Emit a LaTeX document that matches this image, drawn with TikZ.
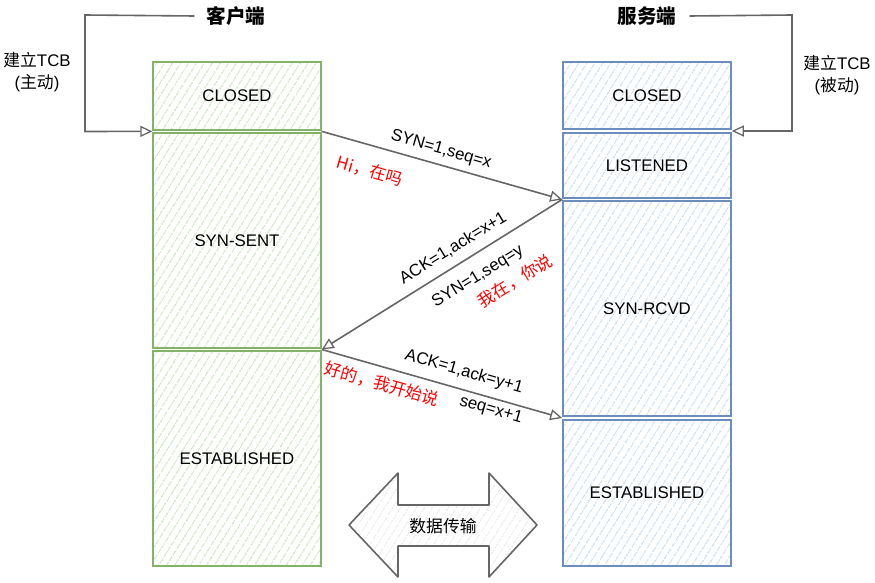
\documentclass[tikz,border=0pt]{standalone}
\usepackage{fontspec}
\setmainfont{Liberation Sans}
\newfontfamily\cjk{Noto Sans CJK SC}
\usetikzlibrary{arrows.meta,patterns.meta,calc}
\definecolor{gstroke}{HTML}{82B366}
\definecolor{ghatch}{HTML}{CDE4C4}
\definecolor{bstroke}{HTML}{6C8EBF}
\definecolor{bhatch}{HTML}{CADCF4}
\definecolor{lgray}{HTML}{666666}
\definecolor{hgray}{HTML}{E8E8E8}
\newcommand\dfs{\fontsize{16.8}{20}\selectfont}
\newcommand\tfs{\fontsize{19.6}{22}\selectfont}
\begin{document}
\begin{tikzpicture}[x=1pt,y=-1pt,
  boxbase/.style={line width=1.6pt, minimum width=168pt, inner sep=0pt, font=\dfs},
  gbox/.style={boxbase, draw=gstroke, pattern={Lines[angle=58,distance=6.5pt,line width=1pt]}, pattern color=ghatch},
  bbox/.style={boxbase, draw=bstroke, pattern={Lines[angle=58,distance=6.5pt,line width=1pt]}, pattern color=bhatch},
  conn/.style={draw=lgray, line width=1.6pt, -{Triangle[open,length=12pt,width=11pt,line width=1.3pt]}},
  lab/.style={font=\dfs, inner sep=0pt},
  redlab/.style={font=\dfs\cjk, text=red, inner sep=0pt},
  title/.style={font=\tfs\cjk\bfseries, inner sep=0pt}
]
\useasboundingbox (0,0) rectangle (875,583);

% titles
\node[title] (ctitle) at (236,16) {客户端};
\node[title] (stitle) at (647,16) {服务端};

% client boxes
\node[gbox, minimum height=68pt] (cclosed) at (237,96) {CLOSED};
\node[gbox, minimum height=215pt] (csent) at (237,240.5) {SYN-SENT};
\node[gbox, minimum height=215pt] (cest) at (237,458.5) {ESTABLISHED};

% server boxes
\node[bbox, minimum height=67pt] (sclosed) at (647,95.5) {CLOSED};
\node[bbox, minimum height=65pt] (slist) at (647,165.5) {LISTENED};
\node[bbox, minimum height=215pt] (srcvd) at (647,308.5) {SYN-RCVD};
\node[bbox, minimum height=146pt] (sest) at (647,493) {ESTABLISHED};

% junctions
\coordinate (cj0) at ($(cclosed.south west)!0.5!(csent.north west)$);
\coordinate (cj1) at ($(cclosed.south east)!0.5!(csent.north east)$);
\coordinate (cj2) at ($(csent.south east)!0.5!(cest.north east)$);
\coordinate (sj0) at ($(sclosed.south east)!0.5!(slist.north east)$);
\coordinate (sj1) at ($(slist.south west)!0.5!(srcvd.north west)$);
\coordinate (sj2) at ($(srcvd.south west)!0.5!(sest.north west)$);

% TCB bracket arrows
\coordinate (lc1) at (85,15);
\coordinate (lc2) at (85,131.5);
\draw[conn] ([xshift=-12pt]ctitle.west) -- (lc1) -- (lc2) -- (cj0);
\coordinate (rc1) at (792,15);
\coordinate (rc2) at (792,131);
\draw[conn] ([xshift=13pt]stitle.east) -- (rc1) -- (rc2) -- (sj0);

\node[lab, align=center] (ltcb) at (37,72) {{\cjk 建立}TCB\\[2pt]({\cjk 主动})};
\node[lab, align=center] (rtcb) at (837,75) {{\cjk 建立}TCB\\[2pt]({\cjk 被动})};

% handshake arrows
\draw[conn] (cj1) -- (sj1);
\draw[conn] (sj1) -- (cj2);
\draw[conn] (cj2) -- (sj2);

% labels
\node[lab, rotate=-16] (l1) at (441,150) {SYN=1,seq=x};
\node[redlab, rotate=-16] (r1) at (370,171) {Hi，在吗};
\node[lab, rotate=31.5] (l2) at (453,248) {ACK=1,ack=x+1};
\node[lab, rotate=31.5] (l3) at (478,277) {SYN=1,seq=y};
\node[redlab, rotate=31.5] (r2) at (515,281) {我在，你说};
\node[lab, rotate=-16] (l4) at (464,372) {ACK=1,ack=y+1};
\node[lab, rotate=-16] (l5) at (491,410) {seq=x+1};
\node[redlab, rotate=-16] (r3) at (382,384) {好的，我开始说};

% data transfer double arrow
\draw[draw=lgray, line width=1.6pt, line join=round,
      pattern={Lines[angle=58,distance=6.5pt,line width=0.9pt]}, pattern color=hgray]
  (349,525) -- (398,473) -- (398,505) -- (489,505) -- (489,473) -- (537,525)
  -- (489,577) -- (489,546) -- (398,546) -- (398,577) -- cycle;
\node[font=\dfs\cjk, inner sep=0pt] (dt) at (443,526) {数据传输};
\end{tikzpicture}
\end{document}
